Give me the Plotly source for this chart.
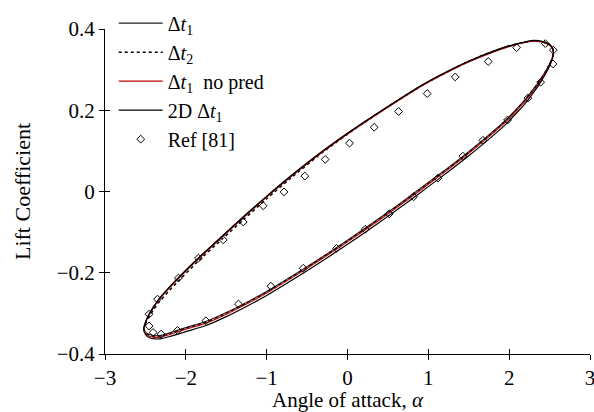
import plotly.graph_objects as go

# Pitching-airfoil lift hysteresis: closed loops traced from the left tip,
# along the upper branch to the right tip, then back along the lower branch.
alpha_loop = [-2.52, -2.50, -2.46, -2.40, -2.33, -2.22, -2.10, -1.85, -1.55, -1.28,
              -1.00, -0.72, -0.31, 0.10, 0.52, 0.93, 1.34, 1.55, 1.80, 1.96,
              2.15, 2.30, 2.42, 2.50, 2.535, 2.548,
              2.535, 2.50, 2.44, 2.36, 2.28, 2.20, 2.10, 1.96, 1.75, 1.50,
              1.25, 1.00, 0.75, 0.50, 0.25, 0.00, -0.25, -0.50, -0.75, -1.00,
              -1.25, -1.50, -1.75, -2.00, -2.20, -2.30, -2.38, -2.45, -2.50, -2.52]

cl_dt1 = [-0.336, -0.322, -0.304, -0.284, -0.264, -0.239, -0.214, -0.165, -0.110, -0.061,
          -0.012, 0.035, 0.099, 0.157, 0.212, 0.263, 0.306, 0.325, 0.345, 0.356,
          0.366, 0.371, 0.368, 0.361, 0.353, 0.343,
          0.330, 0.314, 0.293, 0.268, 0.247, 0.227, 0.205, 0.176, 0.139, 0.098,
          0.059, 0.022, -0.015, -0.051, -0.086, -0.120, -0.153, -0.185, -0.216, -0.246,
          -0.273, -0.298, -0.320, -0.335, -0.348, -0.354, -0.355, -0.352, -0.346, -0.336]

cl_dt2 = [-0.338, -0.326, -0.310, -0.291, -0.272, -0.247, -0.222, -0.172, -0.117, -0.068,
          -0.018, 0.030, 0.096, 0.155, 0.211, 0.262, 0.305, 0.325, 0.345, 0.356,
          0.366, 0.371, 0.368, 0.361, 0.353, 0.343,
          0.330, 0.313, 0.292, 0.267, 0.246, 0.226, 0.203, 0.174, 0.137, 0.096,
          0.057, 0.020, -0.017, -0.053, -0.088, -0.122, -0.155, -0.187, -0.218, -0.248,
          -0.275, -0.300, -0.322, -0.337, -0.350, -0.356, -0.357, -0.354, -0.348, -0.338]

cl_dt1_nopred = [-0.338, -0.324, -0.306, -0.286, -0.266, -0.241, -0.216, -0.167, -0.112, -0.063,
                 -0.014, 0.033, 0.097, 0.155, 0.210, 0.261, 0.304, 0.323, 0.343, 0.354,
                 0.365, 0.370, 0.367, 0.360, 0.352, 0.342,
                 0.328, 0.311, 0.289, 0.264, 0.243, 0.223, 0.201, 0.172, 0.135, 0.094,
                 0.055, 0.018, -0.019, -0.055, -0.090, -0.124, -0.157, -0.189, -0.220, -0.250,
                 -0.277, -0.302, -0.324, -0.339, -0.352, -0.358, -0.359, -0.356, -0.349, -0.338]

cl_2d_dt1 = [-0.339, -0.323, -0.304, -0.284, -0.264, -0.239, -0.214, -0.165, -0.110, -0.061,
             -0.012, 0.035, 0.099, 0.157, 0.212, 0.263, 0.306, 0.325, 0.345, 0.356,
             0.366, 0.372, 0.369, 0.362, 0.353, 0.342,
             0.327, 0.309, 0.286, 0.260, 0.238, 0.217, 0.195, 0.166, 0.129, 0.088,
             0.049, 0.012, -0.025, -0.061, -0.096, -0.130, -0.163, -0.195, -0.226, -0.256,
             -0.283, -0.308, -0.330, -0.345, -0.357, -0.362, -0.363, -0.360, -0.352, -0.339]

# Reference data, one cycle
alpha_ref = [-2.455, -2.35, -2.092, -1.844, -1.538, -1.29, -1.043, -0.785, -0.528, -0.276,
             0.025, 0.33, 0.632, 0.986, 1.333, 1.741, 2.092, 2.447, 2.546,
             2.542, 2.389, 2.232, 1.98, 1.675, 1.427, 1.119, 0.817, 0.516, 0.219,
             -0.136, -0.548, -0.948, -1.349, -1.753, -2.104, -2.306, -2.405, -2.455]
cl_ref = [-0.302, -0.265, -0.213, -0.164, -0.119, -0.075, -0.035, -0.001, 0.038, 0.079,
          0.119, 0.158, 0.197, 0.241, 0.282, 0.320, 0.354, 0.364, 0.348,
          0.314, 0.269, 0.230, 0.176, 0.126, 0.087, 0.033, -0.013, -0.055, -0.093,
          -0.140, -0.189, -0.233, -0.277, -0.318, -0.342, -0.351, -0.347, -0.331]

x_ticks = [-3, -2, -1, 0, 1, 2, 3]
y_ticks = [-0.4, -0.2, 0, 0.2, 0.4]

FONT = "Liberation Serif"
RED = "#b80000"

fig = go.Figure()
line_kw = dict(shape="spline", smoothing=0.6)
fig.add_trace(go.Scatter(x=alpha_loop, y=cl_dt1, mode="lines", name="Δ<i>t</i><sub>1</sub>",
                         line=dict(color="#222222", width=1.2, **line_kw)))
fig.add_trace(go.Scatter(x=alpha_loop, y=cl_dt2, mode="lines", name="Δ<i>t</i><sub>2</sub>",
                         line=dict(color="black", width=1.5, dash="dot", **line_kw)))
fig.add_trace(go.Scatter(x=alpha_loop, y=cl_dt1_nopred, mode="lines",
                         name="Δ<i>t</i><sub>1</sub>  no pred",
                         line=dict(color=RED, width=1.1, **line_kw)))
fig.add_trace(go.Scatter(x=alpha_loop, y=cl_2d_dt1, mode="lines",
                         name="2D Δ<i>t</i><sub>1</sub>",
                         line=dict(color="black", width=1.2, **line_kw)))
fig.add_trace(go.Scatter(x=alpha_ref, y=cl_ref, mode="markers", name="Ref [81]",
                         marker=dict(symbol="diamond-open", size=6, color="black",
                                     line=dict(width=1, color="black"))))
# invisible trace on the overlay axes that carry the inward tick marks
fig.add_trace(go.Scatter(x=[0], y=[0], xaxis="x2", yaxis="y2", mode="markers",
                         marker=dict(opacity=0), showlegend=False, hoverinfo="skip"))

axis_common = dict(showgrid=False, zeroline=False, linecolor="black", linewidth=1,
                   tickcolor="black", ticklen=5, tickwidth=1,
                   tickfont=dict(family=FONT, size=21, color="black"),
                   ticklabeloverflow="allow", automargin=False)

fig.update_layout(
    width=594, height=412,
    margin=dict(l=105, r=4, t=22, b=58),
    paper_bgcolor="white", plot_bgcolor="white",
    font=dict(family=FONT, size=20, color="black"),
    xaxis=dict(range=[-3, 3], tickvals=x_ticks, ticks="outside", showline=True,
               title=dict(text="Angle of attack, <i>α</i>", font=dict(family=FONT, size=21)),
               **axis_common),
    yaxis=dict(range=[-0.4, 0.4], tickvals=y_ticks, ticks="outside", showline=True,
               title=dict(text="Lift Coefficient", font=dict(family=FONT, size=22),
                          standoff=20),
               **axis_common),
    xaxis2=dict(overlaying="x", matches="x", range=[-3, 3], tickvals=x_ticks,
                ticks="inside", showticklabels=False, showline=False, showgrid=False,
                zeroline=False, ticklen=5, tickcolor="black", side="bottom",
                automargin=False),
    yaxis2=dict(overlaying="y", matches="y", range=[-0.4, 0.4], tickvals=y_ticks,
                ticks="inside", showticklabels=False, showline=False, showgrid=False,
                zeroline=False, ticklen=5, tickcolor="black", side="left",
                automargin=False),
    legend=dict(x=0.018, y=1.078, xanchor="left", yanchor="top", bgcolor="rgba(0,0,0,0)",
                font=dict(family=FONT, size=20, color="black"), itemwidth=44,
                tracegroupgap=0),
    showlegend=True,
)

fig.write_html("out.html")
